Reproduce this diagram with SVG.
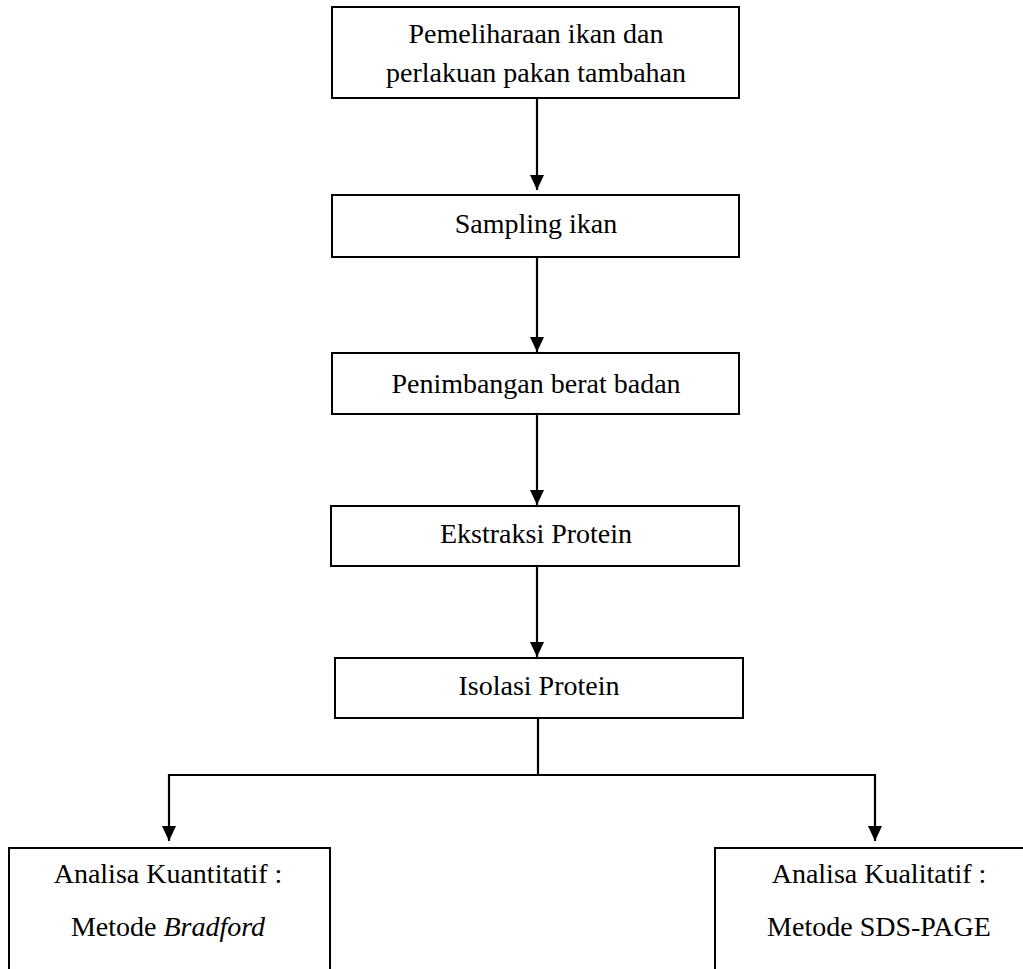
<svg xmlns="http://www.w3.org/2000/svg" width="1023" height="969" viewBox="0 0 1023 969">
<style>
.box{fill:#fff;stroke:#000;stroke-width:2}
.lbl{font-family:"Liberation Serif","Times New Roman",serif;font-size:28px;fill:#000;text-anchor:middle}
.con{fill:none;stroke:#000;stroke-width:2.2}
</style>
<defs>
<marker id="ah" markerUnits="userSpaceOnUse" markerWidth="16" markerHeight="16" viewBox="0 0 16 16" refX="15" refY="8" orient="auto">
<path d="M0,1 L15,8 L0,15 Z" fill="#000"/>
</marker>
</defs>
<rect width="1023" height="969" fill="#fff"/>
<g id="connectors">
<line class="con" x1="537" y1="98" x2="537" y2="190" marker-end="url(#ah)"/>
<line class="con" x1="537" y1="257" x2="537" y2="352" marker-end="url(#ah)"/>
<line class="con" x1="537" y1="414" x2="537" y2="505" marker-end="url(#ah)"/>
<line class="con" x1="537" y1="566" x2="537" y2="657" marker-end="url(#ah)"/>
<polyline class="con" points="538,718 538,775"/>
<polyline class="con" points="538,775 169,775 169,841" marker-end="url(#ah)"/>
<polyline class="con" points="538,775 875,775 875,841" marker-end="url(#ah)"/>
</g>
<g id="n1"><rect class="box" x="332" y="7" width="407" height="91"/>
<text class="lbl" x="536" y="43">Pemeliharaan ikan dan</text>
<text class="lbl" x="536" y="82">perlakuan pakan tambahan</text></g>
<g id="n2"><rect class="box" x="332" y="195" width="407" height="62"/>
<text class="lbl" x="536" y="233">Sampling ikan</text></g>
<g id="n3"><rect class="box" x="332" y="353" width="407" height="61"/>
<text class="lbl" x="536" y="393">Penimbangan berat badan</text></g>
<g id="n4"><rect class="box" x="331" y="506" width="408" height="60"/>
<text class="lbl" x="536" y="543">Ekstraksi Protein</text></g>
<g id="n5"><rect class="box" x="335" y="658" width="408" height="60"/>
<text class="lbl" x="539" y="695">Isolasi Protein</text></g>
<g id="n6"><rect class="box" x="9" y="848" width="321" height="140"/>
<text class="lbl" x="168" y="883">Analisa Kuantitatif :</text>
<text class="lbl" x="168" y="936">Metode <tspan font-style="italic">Bradford</tspan></text></g>
<g id="n7"><rect class="box" x="715" y="848" width="330" height="140"/>
<text class="lbl" x="879" y="883">Analisa Kualitatif :</text>
<text class="lbl" x="879" y="936">Metode SDS-PAGE</text></g>
</svg>
